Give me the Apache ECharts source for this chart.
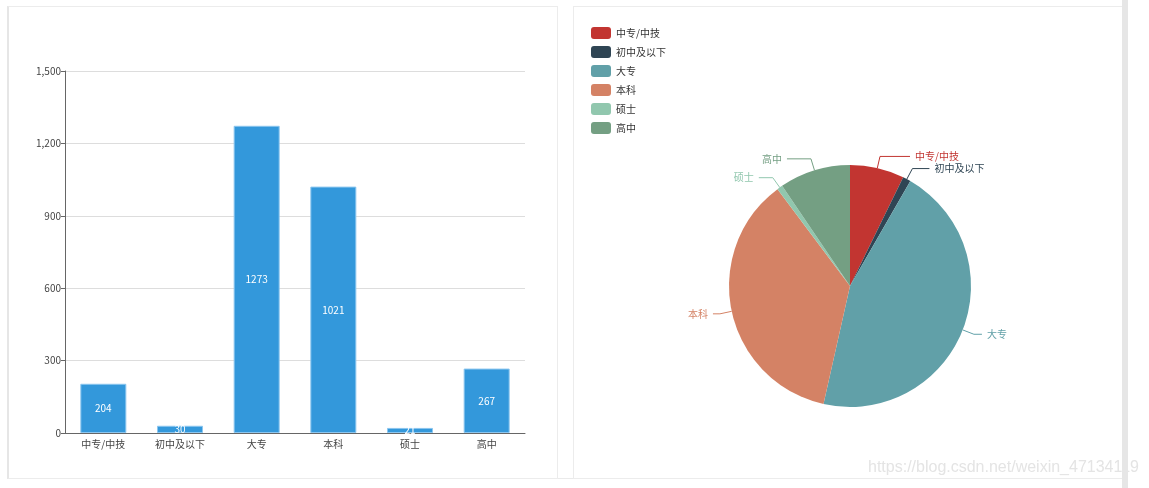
<!DOCTYPE html>
<html>
<head>
<meta charset="utf-8">
<script src="https://cdn.jsdelivr.net/npm/echarts@6/dist/echarts.min.js"></script>
<style>
  html, body { margin: 0; padding: 0; width: 1149px; height: 488px; background: #fff; overflow: hidden; position: relative; }
  .panel { position: absolute; top: 6px; width: 548px; height: 471px; border: 1px solid #ececec; background: #fff; }
  #left { left: 7px; border-left: 2px solid #e6e6e6; }
  #right { left: 573px; }
  #bar { position: absolute; left: 0; top: 0; width: 548px; height: 471px; }
  #pie { position: absolute; left: 0; top: 0; width: 548px; height: 471px; }
  #side { position: absolute; left: 1122px; top: 0; width: 6px; height: 488px; background: #e6e6e6; z-index: 11; }
  #bottomline { position: absolute; left: 7px; top: 478px; width: 1115px; height: 1px; background: #eaeaea; }
  #wm { position: absolute; left: 868px; top: 458px; font-family: "Liberation Sans", Arial, sans-serif; font-size: 16px; color: #e4e4e4; white-space: nowrap; z-index: 10; }
</style>
</head>
<body>
<div id="bottomline"></div>
<div class="panel" id="left"><div id="bar"></div></div>
<div class="panel" id="right"><div id="pie"></div></div>
<div id="side"></div>
<div id="wm">https://blog.csdn.net/weixin_47134119</div>
<script>
const categories = ['中专/中技', '初中及以下', '大专', '本科', '硕士', '高中'];
const counts = [204, 30, 1273, 1021, 21, 267];
const yTicks = [0, 300, 600, 900, 1200, 1500];
const pieColors = ['#c23531', '#2f4554', '#61a0a8', '#d48265', '#91c7ae', '#749f83'];
const labelLine2 = [30, 17, 8, 7, 14, 24];

const FONT = '"Noto Sans CJK SC", "Noto Sans", sans-serif';

const bar = echarts.init(document.getElementById('bar'), null, { renderer: 'canvas' });
bar.setOption({
  animation: false,
  textStyle: { fontFamily: FONT },
  grid: { left: 56, top: 64, width: 460, height: 362, containLabel: false },
  xAxis: {
    type: 'category',
    data: categories,
    axisTick: { alignWithLabel: true, lineStyle: { color: '#666' } },
    axisLine: { lineStyle: { color: '#666' } },
    axisLabel: { color: '#444', fontSize: 10, fontFamily: FONT, margin: 6 }
  },
  yAxis: {
    type: 'value',
    min: yTicks[0],
    max: yTicks[yTicks.length - 1],
    interval: yTicks[1] - yTicks[0],
    axisLine: { show: true, lineStyle: { color: '#666' } },
    axisTick: { show: true, length: 4, lineStyle: { color: '#666' } },
    splitLine: { lineStyle: { color: '#ddd' } },
    axisLabel: {
      color: '#444', fontSize: 10, fontFamily: FONT, margin: 4,
      formatter: v => v.toLocaleString('en-US')
    }
  },
  series: [{
    type: 'bar',
    data: counts,
    barWidth: '60%',
    itemStyle: { color: '#3398DB', borderColor: '#8cc6ef', borderWidth: 1 },
    label: { show: true, position: 'inside', color: '#fff', fontSize: 10, fontFamily: FONT }
  }]
});

const pie = echarts.init(document.getElementById('pie'), null, { renderer: 'canvas' });
pie.setOption({
  animation: false,
  color: pieColors,
  textStyle: { fontFamily: FONT },
  legend: {
    orient: 'vertical',
    left: 12,
    top: 15,
    itemWidth: 20,
    itemHeight: 12,
    itemGap: 7,
    icon: 'roundRect',
    data: categories,
    textStyle: { color: '#333', fontSize: 10, fontFamily: FONT }
  },
  series: [{
    type: 'pie',
    center: [276, 279],
    radius: 121,
    startAngle: 90,
    data: categories.map((c, i) => ({
      name: c,
      value: counts[i],
      label: { color: pieColors[i] },
      labelLine: { length2: labelLine2[i] }
    })),
    label: { show: true, fontSize: 10, fontFamily: FONT },
    labelLine: { show: true, length: 12, length2: 14, smooth: false },
    itemStyle: { borderWidth: 0 }
  }]
});
</script>
</body>
</html>
